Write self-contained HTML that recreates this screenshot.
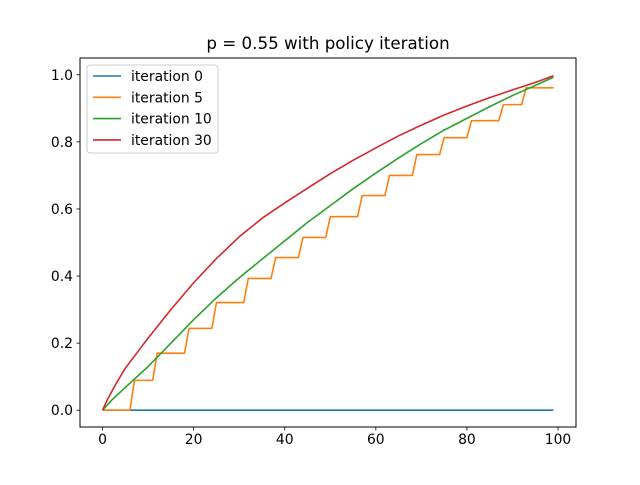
<!DOCTYPE html>
<html><head><meta charset="utf-8"><style>
body{margin:0;background:#fff;}
svg text{font-family:"DejaVu Sans","Liberation Sans",sans-serif;}
</style></head><body>
<svg id="chart" width="640" height="480" xmlns="http://www.w3.org/2000/svg">
<rect width="640" height="480" fill="#fff"/>
<text x="328" y="49" font-size="16.7" text-anchor="middle">p = 0.55 with policy iteration</text>
<g id="plot"></g>
<rect x="80" y="58" width="496" height="369" fill="none" stroke="#000" stroke-width="1"/>
<g id="xticks"></g>
<g id="yticks"></g>
<g id="legend"></g>
</svg>
<script>
const xTicks=[0,20,40,60,80,100];
const yTicks=[0.0,0.2,0.4,0.6,0.8,1.0];
const yTickLabels=["0.0","0.2","0.4","0.6","0.8","1.0"];
const seriesNames=["iteration 0","iteration 5","iteration 10","iteration 30"];
const seriesColors=["#1f77b4","#ff7f0e","#2ca02c","#d62728"];
const iter0X=[0,99];
const iter0Y=[0,0];
const iter5StepStart=[0,7,12,19,25,32,38,44,50,57,63,69,75,81,88,93];
const iter5StepLevel=[0,0.089,0.17,0.244,0.321,0.393,0.455,0.515,0.577,0.64,0.70,0.762,0.8125,0.863,0.911,0.961];
const iter10X=[0,2,5,10,15,20,25,30,35,40,45,50,55,60,65,70,75,80,85,90,95,99];
const iter10Y=[0,0.03,0.068,0.13,0.2,0.27,0.335,0.395,0.45,0.505,0.56,0.61,0.66,0.707,0.752,0.795,0.835,0.87,0.905,0.938,0.968,0.993];
const iter30X=[0,1,2,3,5,7.5,10,15,20,25,30,35,40,45,50,55,60,65,70,75,80,85,90,95,99];
const iter30Y=[0,0.03,0.055,0.08,0.125,0.17,0.215,0.3,0.38,0.452,0.517,0.572,0.618,0.662,0.705,0.745,0.782,0.818,0.85,0.88,0.907,0.932,0.955,0.977,0.997];

const NS="http://www.w3.org/2000/svg";
const L=80,R=576,T=58,B=427;
const xMin=-4.95,xMax=103.95,yMin=-0.05,yMax=1.05;
const xs=v=>L+(v-xMin)/(xMax-xMin)*(R-L);
const ys=v=>B-(v-yMin)/(yMax-yMin)*(B-T);
function mk(tag,attrs,parent){const e=document.createElementNS(NS,tag);for(const k in attrs)e.setAttribute(k,attrs[k]);parent.appendChild(e);return e;}
const plot=document.getElementById('plot');
function line(X,Y,color,name){
  const p=mk('polyline',{points:X.map((x,i)=>xs(x)+','+ys(Y[i])).join(' '),fill:'none',stroke:color,'stroke-width':1.6,'stroke-linejoin':'round'},plot);
  
  
}
line(iter0X,iter0Y,seriesColors[0],'series-iteration-0');
const i5X=[],i5Y=[];
for(let i=0;i<100;i++){let lv=0;for(let k=0;k<iter5StepStart.length;k++)if(i>=iter5StepStart[k])lv=iter5StepLevel[k];i5X.push(i);i5Y.push(lv);}
line(i5X,i5Y,seriesColors[1],'series-iteration-5');
line(iter10X,iter10Y,seriesColors[2],'series-iteration-10');
line(iter30X,iter30Y,seriesColors[3],'series-iteration-30');

const gx=document.getElementById('xticks');
xTicks.forEach(v=>{
  const t=mk('line',{x1:xs(v),x2:xs(v),y1:B,y2:B+3.5,stroke:'#000','stroke-width':0.8},gx);
  
  
  const l=mk('text',{x:xs(v),y:B+17,'font-size':13.9,'text-anchor':'middle'},gx);
  l.textContent=v;
  
  
});
const gy=document.getElementById('yticks');
yTicks.forEach((v,i)=>{
  const t=mk('line',{x1:L-3.5,x2:L,y1:ys(v),y2:ys(v),stroke:'#000','stroke-width':0.8},gy);
  
  
  const l=mk('text',{x:L-7,y:ys(v)+5,'font-size':13.9,'text-anchor':'end'},gy);
  l.textContent=yTickLabels[i];
  
  
});
const lg=document.getElementById('legend');
const box=mk('rect',{x:87,y:65,width:131,height:88,rx:3,fill:'#fff','fill-opacity':0.8,stroke:'#ccc','stroke-width':1},lg);


seriesNames.forEach((n,i)=>{
  const y=76+i*21.3;
  const s=mk('line',{x1:93,x2:121,y1:y,y2:y,stroke:seriesColors[i],'stroke-width':1.6},lg);
  
  
  const t=mk('text',{x:131,y:y+5,'font-size':13.9},lg);
  t.textContent=n;
  
  
});
</script>
</body></html>
